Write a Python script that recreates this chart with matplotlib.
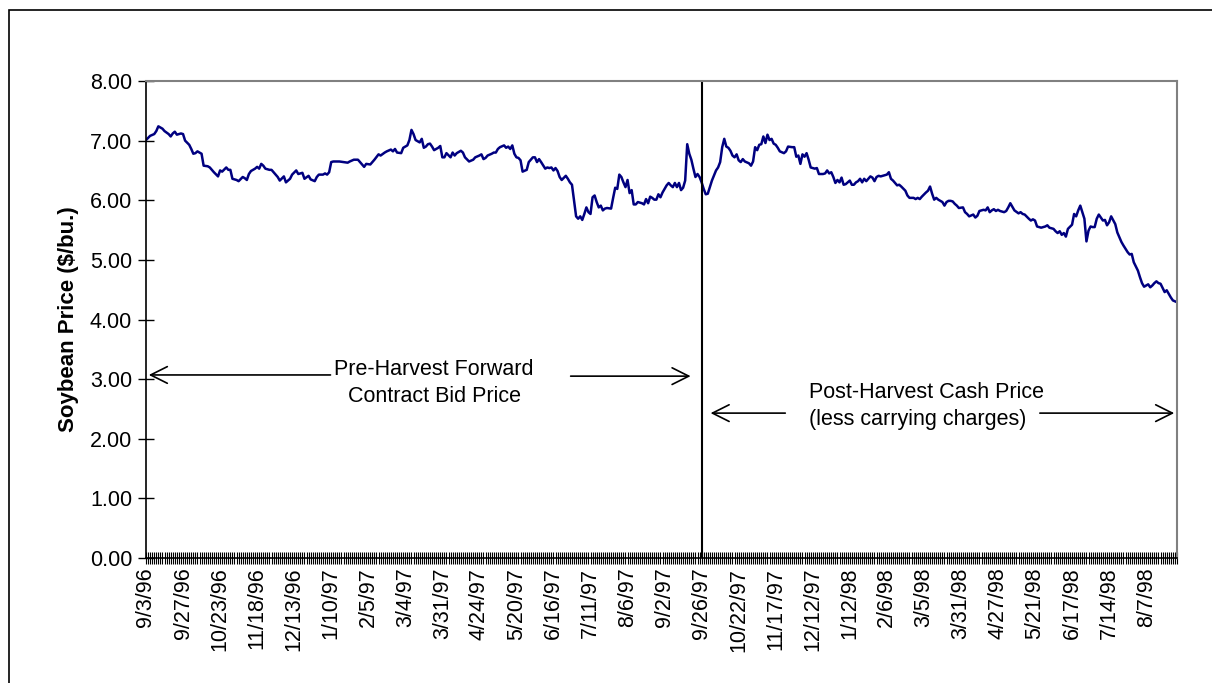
#! /usr/bin/env python
# -*- coding: utf-8 -*-

import numpy as np
import matplotlib
matplotlib.use('Agg')
import matplotlib.pyplot as plt
from matplotlib.patches import Rectangle
from matplotlib.ticker import FormatStrFormatter

plt.rcParams['font.family'] = ['Liberation Sans', 'DejaVu Sans']

# trading-day index (0 = 9/3/96) and soybean price ($/bu.)
days = [
    0, 2, 4, 5, 6, 8, 9, 11, 12, 13, 14, 15, 17, 18, 19, 21, 22, 23, 24, 25,
    27, 28, 30, 31, 33, 35, 36, 37, 39, 40, 41, 42, 44, 45, 47, 48, 49, 50, 51, 53,
    54, 55, 56, 57, 58, 60, 61, 62, 64, 65, 67, 68, 70, 71, 73, 74, 75, 76, 77, 79,
    80, 82, 83, 84, 86, 87, 88, 89, 90, 91, 94, 96, 98, 99, 101, 102, 103, 105, 106, 107,
    109, 111, 113, 114, 116, 117, 119, 120, 121, 122, 124, 125, 127, 128, 129, 130, 131, 133, 134, 135,
    136, 137, 138, 139, 140, 142, 143, 144, 145, 146, 148, 149, 150, 151, 153, 154, 155, 157, 159, 160,
    162, 163, 164, 165, 166, 168, 169, 170, 171, 172, 174, 175, 176, 177, 178, 179, 180, 181, 182, 183,
    185, 186, 187, 188, 189, 190, 191, 192, 194, 195, 196, 197, 198, 199, 200, 201, 202, 204, 205, 206,
    207, 208, 209, 210, 211, 212, 213, 214, 215, 216, 217, 218, 219, 220, 221, 222, 223, 224, 226, 227,
    228, 229, 230, 231, 232, 233, 234, 235, 236, 237, 238, 239, 241, 242, 243, 244, 245, 246, 247, 248,
    249, 250, 251, 253, 254, 255, 256, 257, 258, 259, 260, 261, 262, 263, 264, 265, 266, 267, 268, 269,
    270, 271, 272, 273, 274, 275, 277, 278, 279, 280, 281, 282, 283, 284, 285, 286, 287, 288, 289, 290,
    291, 293, 294, 295, 296, 297, 298, 299, 300, 301, 302, 303, 304, 305, 306, 307, 308, 310, 311, 312,
    314, 315, 316, 317, 318, 319, 320, 321, 322, 323, 325, 326, 327, 329, 330, 331, 332, 333, 334, 335,
    336, 337, 338, 339, 340, 342, 343, 344, 345, 346, 347, 348, 349, 350, 351, 352, 353, 354, 355, 356,
    357, 359, 360, 361, 362, 363, 365, 366, 367, 369, 370, 371, 373, 374, 375, 376, 377, 379, 380, 381,
    382, 383, 384, 385, 387, 388, 389, 390, 391, 392, 393, 394, 395, 397, 398, 399, 400, 402, 403, 404,
    405, 407, 408, 409, 410, 411, 412, 413, 414, 415, 417, 418, 419, 420, 421, 422, 424, 425, 426, 427,
    429, 430, 431, 432, 433, 435, 436, 437, 438, 439, 441, 442, 443, 444, 445, 446, 447, 448, 450, 451,
    452, 453, 454, 455, 456, 457, 458, 459, 460, 461, 462, 463, 464, 465, 466, 467, 468, 469, 471, 472,
    473, 474, 475, 477, 478, 479, 480, 482, 483, 484, 485, 487, 488, 489, 490, 491, 492, 493, 495, 496,
    497, 498, 499, 501,
]
price = [
    7.01, 7.08, 7.11, 7.16, 7.24, 7.20, 7.16, 7.11, 7.07, 7.12, 7.15, 7.10, 7.12, 7.11, 7.00, 6.93, 6.86, 6.78, 6.79, 6.82,
    6.78, 6.58, 6.57, 6.55, 6.47, 6.40, 6.50, 6.48, 6.55, 6.51, 6.51, 6.36, 6.34, 6.32, 6.39, 6.37, 6.34, 6.44, 6.49, 6.53,
    6.56, 6.53, 6.61, 6.58, 6.53, 6.51, 6.51, 6.47, 6.39, 6.33, 6.40, 6.30, 6.36, 6.43, 6.50, 6.44, 6.45, 6.46, 6.36, 6.41,
    6.35, 6.32, 6.39, 6.43, 6.43, 6.45, 6.43, 6.47, 6.64, 6.65, 6.65, 6.64, 6.63, 6.65, 6.68, 6.68, 6.68, 6.60, 6.56, 6.61,
    6.60, 6.68, 6.77, 6.75, 6.80, 6.82, 6.85, 6.82, 6.86, 6.80, 6.79, 6.88, 6.92, 7.01, 7.18, 7.11, 7.01, 6.97, 7.03, 6.88,
    6.90, 6.94, 6.95, 6.90, 6.84, 6.88, 6.91, 6.72, 6.72, 6.79, 6.72, 6.80, 6.75, 6.79, 6.83, 6.80, 6.72, 6.65, 6.68, 6.72,
    6.75, 6.77, 6.69, 6.71, 6.75, 6.78, 6.80, 6.80, 6.86, 6.89, 6.92, 6.88, 6.90, 6.86, 6.92, 6.78, 6.72, 6.71, 6.67, 6.48,
    6.51, 6.64, 6.68, 6.72, 6.72, 6.64, 6.69, 6.64, 6.53, 6.55, 6.54, 6.55, 6.50, 6.54, 6.49, 6.39, 6.34, 6.41, 6.36, 6.30,
    6.26, 6.00, 5.73, 5.69, 5.73, 5.67, 5.77, 5.88, 5.80, 5.77, 6.05, 6.08, 5.97, 5.88, 5.91, 5.83, 5.86, 5.87, 5.86, 6.04,
    6.21, 6.19, 6.43, 6.39, 6.30, 6.22, 6.34, 6.12, 6.17, 5.93, 5.93, 5.97, 5.95, 5.93, 6.02, 5.95, 6.06, 6.04, 6.01, 6.01,
    6.10, 6.05, 6.13, 6.25, 6.29, 6.25, 6.22, 6.29, 6.22, 6.29, 6.17, 6.21, 6.33, 6.94, 6.78, 6.68, 6.53, 6.39, 6.44, 6.39,
    6.30, 6.19, 6.10, 6.11, 6.22, 6.33, 6.50, 6.55, 6.64, 6.89, 7.03, 6.90, 6.88, 6.83, 6.75, 6.72, 6.77, 6.67, 6.64, 6.69,
    6.65, 6.62, 6.58, 6.65, 6.89, 6.84, 6.93, 6.94, 7.07, 6.96, 7.10, 7.01, 7.03, 6.95, 6.93, 6.88, 6.82, 6.79, 6.82, 6.90,
    6.89, 6.89, 6.73, 6.75, 6.61, 6.77, 6.73, 6.79, 6.68, 6.55, 6.53, 6.54, 6.44, 6.44, 6.45, 6.50, 6.45, 6.47, 6.39, 6.29,
    6.34, 6.30, 6.38, 6.26, 6.27, 6.33, 6.26, 6.26, 6.30, 6.32, 6.36, 6.30, 6.36, 6.32, 6.36, 6.40, 6.38, 6.32, 6.39, 6.41,
    6.40, 6.42, 6.43, 6.47, 6.36, 6.33, 6.25, 6.26, 6.23, 6.16, 6.08, 6.04, 6.04, 6.02, 6.04, 6.02, 6.06, 6.13, 6.16, 6.23,
    6.11, 6.01, 6.04, 6.01, 5.97, 5.91, 5.97, 5.99, 5.99, 5.98, 5.94, 5.91, 5.87, 5.88, 5.80, 5.77, 5.73, 5.76, 5.71, 5.74,
    5.82, 5.84, 5.83, 5.88, 5.80, 5.83, 5.85, 5.82, 5.84, 5.82, 5.80, 5.82, 5.88, 5.95, 5.89, 5.83, 5.78, 5.80, 5.77, 5.76,
    5.69, 5.66, 5.68, 5.66, 5.56, 5.54, 5.55, 5.56, 5.58, 5.54, 5.52, 5.48, 5.45, 5.48, 5.42, 5.45, 5.39, 5.52, 5.59, 5.77,
    5.73, 5.83, 5.91, 5.80, 5.69, 5.31, 5.49, 5.56, 5.55, 5.55, 5.69, 5.76, 5.71, 5.66, 5.67, 5.58, 5.63, 5.73, 5.60, 5.46,
    5.38, 5.30, 5.24, 5.13, 5.09, 5.10, 4.96, 4.82, 4.71, 4.61, 4.55, 4.59, 4.54, 4.57, 4.61, 4.64, 4.61, 4.60, 4.46, 4.49,
    4.43, 4.37, 4.32, 4.29,
]

n_days = 502
label_step = 18
date_labels = ['9/3/96', '9/27/96', '10/23/96', '11/18/96', '12/13/96', '1/10/97', '2/5/97',
               '3/4/97', '3/31/97', '4/24/97', '5/20/97', '6/16/97', '7/11/97', '8/6/97',
               '9/2/97', '9/26/97', '10/22/97', '11/17/97', '12/12/97', '1/12/98', '2/6/98',
               '3/5/98', '3/31/98', '4/27/98', '5/21/98', '6/17/98', '7/14/98', '8/7/98']
harvest_day = 270  # 9/26/97


def main():
    fig = plt.figure(figsize=(12.12, 6.83), dpi=100)
    ax = fig.add_axes([146 / 1212, 1 - 558 / 683, (1177 - 146) / 1212, (558 - 81) / 683])

    # outer chart border (only left/top visible in the original)
    fig.patches.append(Rectangle((9 / 1212, -0.2), 1.5, 1.2 - 10 / 683, transform=fig.transFigure,
                                 fill=False, lw=1.2, ec='black'))

    ax.plot(days, price, color='#000080', lw=1.8, solid_joinstyle='round')
    ax.axvline(harvest_day, color='black', lw=1.5)

    ax.set_xlim(0, n_days - 1)
    ax.set_ylim(0, 8)
    ax.set_yticks(np.arange(0, 9, 1))
    ax.yaxis.set_major_formatter(FormatStrFormatter('%.2f'))
    ax.set_xticks(np.arange(len(date_labels)) * label_step)
    ax.set_xticklabels(date_labels, rotation=90)
    ax.set_xticks(np.arange(n_days), minor=True)

    ax.tick_params(axis='y', direction='inout', length=12, width=1, labelsize=15.5, pad=4)
    ax.tick_params(axis='x', which='both', direction='inout', length=8, width=0.8,
                   labelsize=15.5, pad=3)

    for side in ['left', 'bottom']:
        ax.spines[side].set_color('black')
        ax.spines[side].set_linewidth(1.2)
    for side in ['top', 'right']:
        ax.spines[side].set_color('#808080')
        ax.spines[side].set_linewidth(1.5)

    ax.set_ylabel('Soybean Price ($/bu.)', fontsize=16, fontweight='bold', labelpad=8)

    ''' annotations '''
    arrow = dict(arrowstyle='->', color='black', lw=1.2, mutation_scale=30)
    ax.text(140, 2.94, 'Pre-Harvest Forward\nContract Bid Price', ha='center', va='center',
            fontsize=15.5, linespacing=1.38)
    ax.annotate('', xy=(0, 3.07), xytext=(91, 3.07), arrowprops=arrow)
    ax.annotate('', xy=(266, 3.05), xytext=(205, 3.05), arrowprops=arrow)

    ax.text(322, 2.55, 'Post-Harvest Cash Price\n(less carrying charges)', ha='left', va='center',
            fontsize=15.5, linespacing=1.38)
    ax.annotate('', xy=(273, 2.43), xytext=(312, 2.43), arrowprops=arrow)
    ax.annotate('', xy=(n_days - 1, 2.43), xytext=(433, 2.43), arrowprops=arrow)

    plt.savefig('out.png', dpi=100)


if __name__ == '__main__':
    main()
